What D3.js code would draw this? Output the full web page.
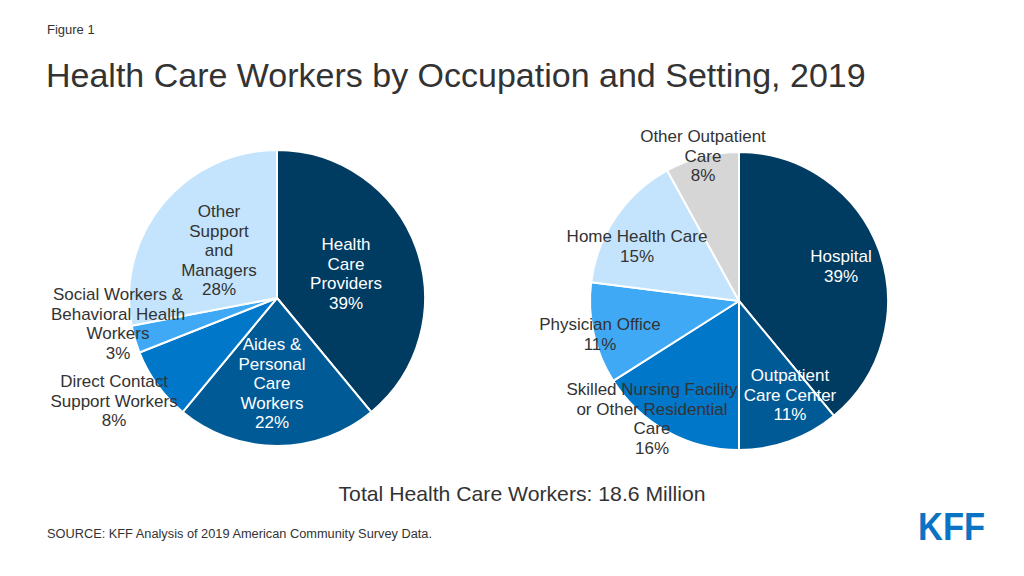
<!DOCTYPE html>
<html><head><meta charset="utf-8">
<script src="https://cdn.jsdelivr.net/npm/d3@7/dist/d3.min.js"></script>
<style>
html,body{margin:0;padding:0;background:#fff;}
svg{display:block;font-family:"Liberation Sans",Arial,Helvetica,sans-serif;}
</style></head>
<body>
<svg id="chart" width="1024" height="576"></svg>
<script>
// ---- data ----
const occupationCategories = ["Health Care Providers","Aides & Personal Care Workers","Direct Contact Support Workers","Social Workers & Behavioral Health Workers","Other Support and Managers"];
const occupationValues = [39, 22, 8, 3, 28];
const settingCategories = ["Hospital","Outpatient Care Center","Skilled Nursing Facility or Other Residential Care","Physician Office","Home Health Care","Other Outpatient Care"];
const settingValues = [39, 11, 16, 11, 15, 8];

// ---- layout / styles (not data) ----
const occupationColors = ["#003b62","#005a95","#0077c8","#3fa9f5","#c3e4fc"];
const settingColors = ["#003b62","#005a95","#0077c8","#3fa9f5","#c3e4fc","#d6d6d6"];
const occupationLabelLines = [["Health","Care","Providers"],["Aides &","Personal","Care","Workers"],["Direct Contact","Support Workers"],["Social Workers &","Behavioral Health","Workers"],["Other","Support","and","Managers"]];
const occupationLabelColors = ["#fff","#fff","#333","#333","#333"];
// label anchor offsets from pie centre (x, first-line baseline y)
const occupationLabelPos = [[69,-48],[-5,52],[-163,89],[-159,2],[-58,-81]];
const settingLabelLines = [["Hospital"],["Outpatient","Care Center"],["Skilled Nursing Facility","or Other Residential","Care"],["Physician Office"],["Home Health Care"],["Other Outpatient","Care"]];
const settingLabelColors = ["#fff","#fff","#333","#333","#333","#333"];
const settingLabelPos = [[102,-39],[51,80],[-87,94],[-139,29],[-102,-59],[-36,-159]];

const svg = d3.select("#chart");

svg.append("text").attr("x",47).attr("y",34).attr("font-size",13).attr("fill","#333").text("Figure 1");
svg.append("text").attr("x",46).attr("y",87).attr("font-size",34).attr("fill","#333").text("Health Care Workers by Occupation and Setting, 2019");

function drawPie(cx, cy, r, values, cats, colors, lines, lcolors, lpos){
  const g = svg.append("g").attr("transform",`translate(${cx},${cy})`);
  const pie = d3.pie().sort(null).value(d=>d);
  const arc = d3.arc().innerRadius(0).outerRadius(r);
  const arcs = pie(values);
  g.selectAll("path").data(arcs).join("path")
    .attr("d",arc).attr("fill",(d,i)=>colors[i])
    .attr("stroke","#fff").attr("stroke-width",2).attr("stroke-linejoin","round");
  const fmt = d3.format(".0f");
  arcs.forEach((d,i)=>{
    const t = g.append("text").attr("text-anchor","middle").attr("font-size",17).attr("fill",lcolors[i]);
    const ls = lines[i].concat([fmt(d.value)+"%"]);
    ls.forEach((s,j)=>{
      t.append("tspan").attr("x",lpos[i][0]).attr("y",lpos[i][1]+j*19.6).text(s);
    });
  });
}

drawPie(277, 298, 148, occupationValues, occupationCategories, occupationColors, occupationLabelLines, occupationLabelColors, occupationLabelPos);
drawPie(739, 301, 149, settingValues, settingCategories, settingColors, settingLabelLines, settingLabelColors, settingLabelPos);

svg.append("text").attr("x",522).attr("y",501).attr("text-anchor","middle").attr("font-size",21).attr("fill","#333")
  .attr("textLength",367).attr("lengthAdjust","spacingAndGlyphs").text("Total Health Care Workers: 18.6 Million");
svg.append("text").attr("x",47).attr("y",538).attr("font-size",12.5).attr("fill","#333")
  .attr("textLength",385).attr("lengthAdjust","spacingAndGlyphs").text("SOURCE: KFF Analysis of 2019 American Community Survey Data.");
svg.append("text").attr("x",918).attr("y",540).attr("font-size",39).attr("font-weight","bold").attr("fill","#0a73c4")
  .attr("textLength",67).attr("lengthAdjust","spacingAndGlyphs").attr("font-family","'Liberation Sans Narrow','Liberation Sans',Arial,sans-serif").text("KFF");
</script>
</body></html>
